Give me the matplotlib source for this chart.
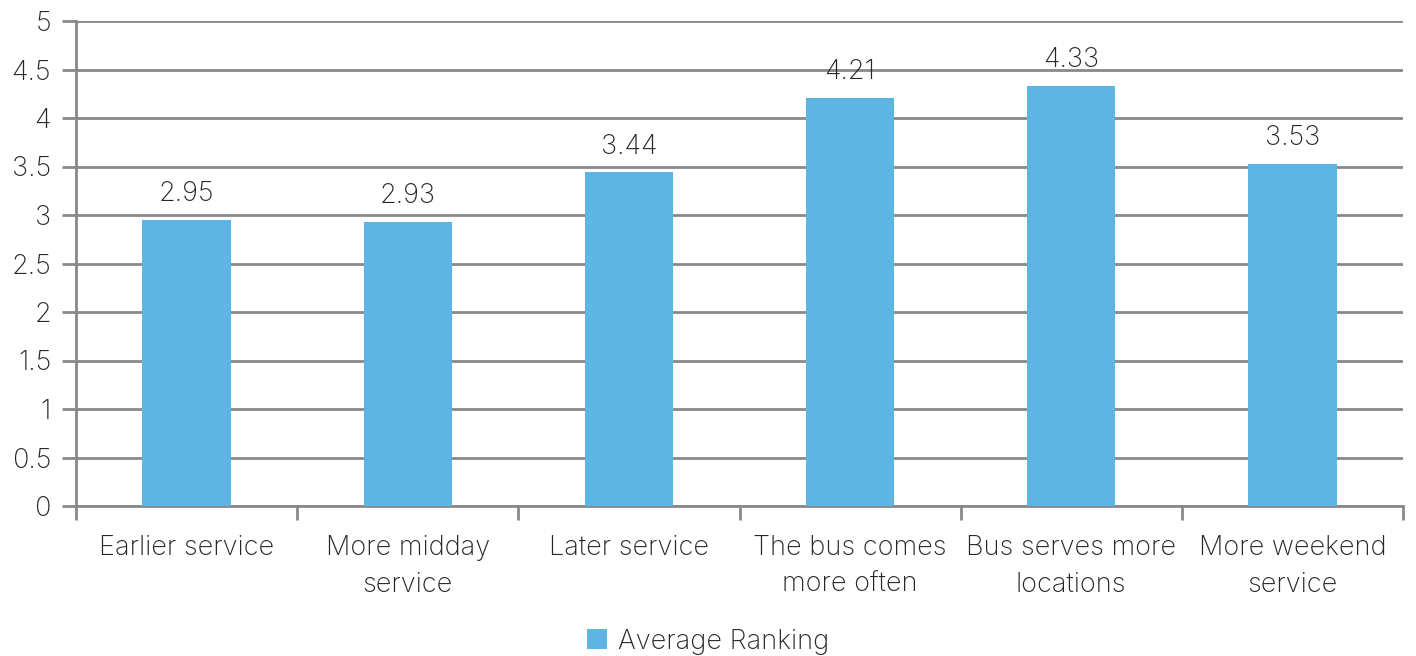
import matplotlib.pyplot as plt
import numpy as np

# Average ranking per service improvement
categories = ["Earlier service", "More midday\nservice", "Later service",
              "The bus comes\nmore often", "Bus serves more\nlocations",
              "More weekend\nservice"]
ranking = [2.95, 2.93, 3.44, 4.21, 4.33, 3.53]
y_ticks = [0, 0.5, 1, 1.5, 2, 2.5, 3, 3.5, 4, 4.5, 5]
y_labels = ["0", "0.5", "1", "1.5", "2", "2.5", "3", "3.5", "4", "4.5", "5"]

plt.rcParams['font.family'] = ['Inter', 'DejaVu Sans']
bar_color = "#5DB5E3"
grid_color = "#898989"
text_color = "#262626"
fs = 19.5

fig = plt.figure(figsize=(14.16, 6.56), dpi=100)
ax = fig.add_axes([76 / 1416, 1 - 506 / 656, (1403 - 76) / 1416, (506 - 21) / 656])

x = np.arange(len(categories))
bars = ax.bar(x, ranking, width=0.4, color=bar_color, label="Average Ranking", zorder=3)

for xi, v in zip(x, ranking):
    ax.text(xi, v + 0.13, f"{v:.2f}", ha="center", va="bottom",
            fontsize=fs, fontweight="light", color=text_color)

ax.set_xlim(-0.5, len(categories) - 0.5)
ax.set_ylim(0, 5)
ax.set_yticks(y_ticks)
ax.set_yticklabels(y_labels, fontsize=fs, fontweight="light", color=text_color)
ax.yaxis.grid(True, color=grid_color, linewidth=2, zorder=0)

# category labels centred, tick marks at the boundaries
ax.set_xticks(x)
ax.set_xticklabels(categories, fontsize=fs, fontweight="light", color=text_color,
                   linespacing=1.55)
ax.tick_params(axis="x", length=0, pad=21)
ax.set_xticks(np.arange(-0.5, len(categories)), minor=True)
ax.tick_params(axis="x", which="minor", length=10, width=2, color=grid_color)
ax.tick_params(axis="y", length=10, width=2, color=grid_color, pad=8)

for side in ["top", "right"]:
    ax.spines[side].set_visible(False)
for side in ["left", "bottom"]:
    ax.spines[side].set_color(grid_color)
    ax.spines[side].set_linewidth(2)

leg = fig.legend(handles=[bars], labels=["Average Ranking"], loc="lower center",
                 bbox_to_anchor=(0.5, -0.035), frameon=False, fontsize=fs,
                 handlelength=0.75, handleheight=0.75, handletextpad=0.4)
for t in leg.get_texts():
    t.set_color(text_color)
    t.set_fontweight("light")

fig.savefig("out.png", dpi=100)
